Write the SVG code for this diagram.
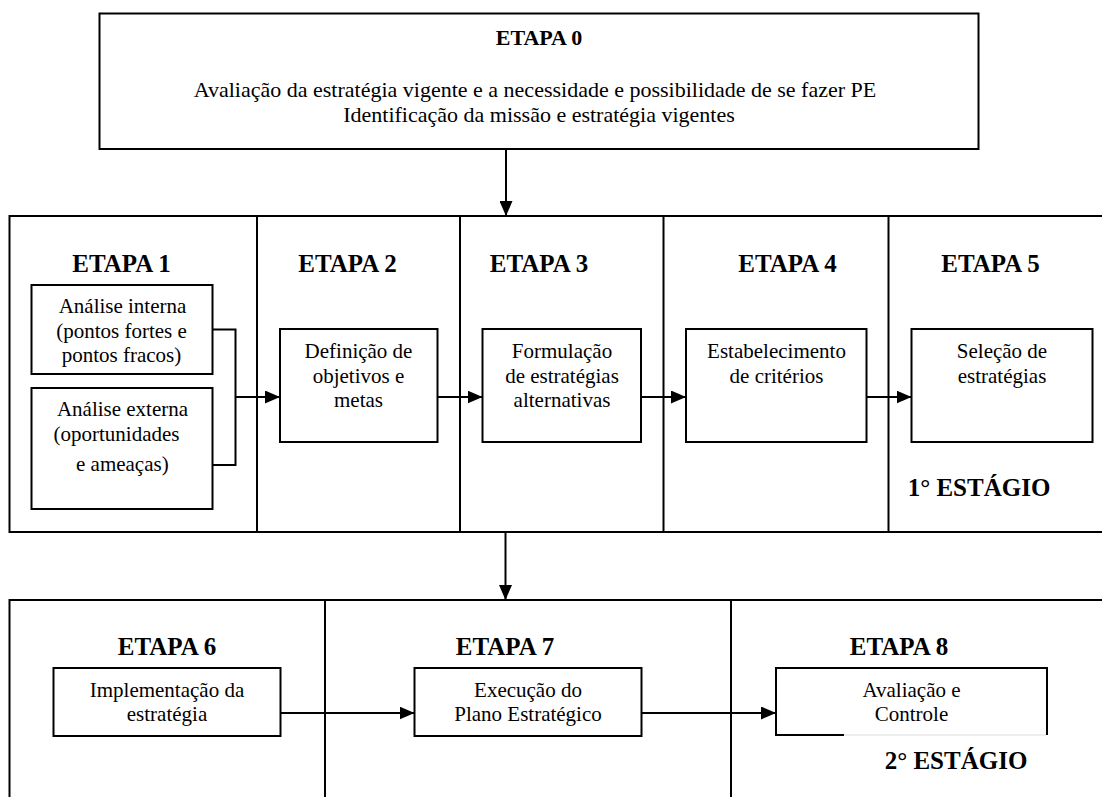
<svg xmlns="http://www.w3.org/2000/svg" width="1102" height="797" viewBox="0 0 1102 797">
  <style>
    .frame { fill: none; stroke: #000; stroke-width: 2; }
    .box { fill: #fff; stroke: #000; stroke-width: 2; }
    .wire { fill: none; stroke: #000; stroke-width: 2; }
    .title { font-weight: bold; font-size: 25px; }
    .body { font-size: 21px; }
    .head { font-size: 22px; }
    .mid { text-anchor: middle; }
  </style>
  <defs>
    <marker id="arrow" viewBox="0 0 15 13" refX="15" refY="6.5" markerWidth="15" markerHeight="13" markerUnits="userSpaceOnUse" orient="auto">
      <path d="M0,0 L15,6.5 L0,13 Z" fill="#000"/>
    </marker>
  </defs>
  <rect width="1102" height="797" fill="#fff"/>

  <!-- Stage frames -->
  <g id="frames">
    <!-- first stage: steps 1 to 5 -->
    <path class="frame" d="M1102,216 H9.5 V532 H1102"/>
    <line class="frame" x1="257" y1="216" x2="257" y2="532"/>
    <line class="frame" x1="460" y1="216" x2="460" y2="532"/>
    <line class="frame" x1="663.5" y1="216" x2="663.5" y2="532"/>
    <line class="frame" x1="888.5" y1="216" x2="888.5" y2="532"/>
    <!-- second stage: steps 6 to 8 -->
    <path class="frame" d="M1102,600 H9.5 V797"/>
    <line class="frame" x1="325" y1="600" x2="325" y2="797"/>
    <line class="frame" x1="731" y1="600" x2="731" y2="797"/>
  </g>

  <g font-family="Liberation Serif, Times New Roman, serif" fill="#000">
  <!-- Step 0 -->
  <g id="etapa0">
    <rect class="box" x="99.5" y="13.5" width="879" height="135.5" stroke-width="2.5"/>
    <text class="title mid" x="539" y="45" style="font-size:22px">ETAPA 0</text>
    <text class="head mid" x="535" y="96.5">Avaliação da estratégia vigente e a necessidade e possibilidade de se fazer PE</text>
    <text class="head mid" x="539" y="121.5">Identificação da missão e estratégia vigentes</text>
  </g>

  <!-- Step 1 -->
  <g id="etapa1">
    <text class="title mid" x="121.5" y="271.5">ETAPA 1</text>
    <g id="analise-interna">
      <rect class="box" x="31.5" y="285" width="181" height="89"/>
      <text class="body mid" x="122.5" y="313">Análise interna</text>
      <text class="body mid" x="121.5" y="338">(pontos fortes e</text>
      <text class="body mid" x="121.5" y="362">pontos fracos)</text>
    </g>
    <g id="analise-externa">
      <rect class="box" x="31.5" y="388" width="181" height="121"/>
      <text class="body mid" x="122.5" y="416">Análise externa</text>
      <text class="body" x="53.5" y="441">(oportunidades</text>
      <text class="body" x="76" y="471">e ameaças)</text>
    </g>
  </g>

  <!-- Step 2 -->
  <g id="etapa2">
    <text class="title mid" x="347.5" y="271.5">ETAPA 2</text>
    <rect class="box" x="280" y="329" width="157.5" height="113"/>
    <text class="body mid" x="358.5" y="358">Definição de</text>
    <text class="body mid" x="358.5" y="383">objetivos e</text>
    <text class="body mid" x="358.5" y="407">metas</text>
  </g>

  <!-- Step 3 -->
  <g id="etapa3">
    <text class="title mid" x="539" y="271.5">ETAPA 3</text>
    <rect class="box" x="482.5" y="329" width="158.5" height="113"/>
    <text class="body mid" x="562" y="358">Formulação</text>
    <text class="body mid" x="562" y="383">de estratégias</text>
    <text class="body mid" x="562" y="407">alternativas</text>
  </g>

  <!-- Step 4 -->
  <g id="etapa4">
    <text class="title mid" x="787.5" y="271.5">ETAPA 4</text>
    <rect class="box" x="686" y="329" width="180.5" height="113"/>
    <text class="body mid" x="776.5" y="358">Estabelecimento</text>
    <text class="body mid" x="776.5" y="383">de critérios</text>
  </g>

  <!-- Step 5 -->
  <g id="etapa5">
    <text class="title mid" x="990.5" y="271.5">ETAPA 5</text>
    <rect class="box" x="911.5" y="329" width="181" height="113"/>
    <text class="body mid" x="1002" y="358">Seleção de</text>
    <text class="body mid" x="1002" y="383">estratégias</text>
    <text class="title mid" x="979" y="496">1° ESTÁGIO</text>
  </g>

  <!-- Step 6 -->
  <g id="etapa6">
    <text class="title mid" x="167" y="655">ETAPA 6</text>
    <rect class="box" x="53.5" y="668" width="227" height="68"/>
    <text class="body mid" x="167" y="696.5">Implementação da</text>
    <text class="body mid" x="167" y="720.5">estratégia</text>
  </g>

  <!-- Step 7 -->
  <g id="etapa7">
    <text class="title mid" x="505" y="655">ETAPA 7</text>
    <rect class="box" x="414.5" y="668" width="227" height="68"/>
    <text class="body mid" x="528" y="696.5">Execução do</text>
    <text class="body mid" x="528" y="720.5">Plano Estratégico</text>
  </g>

  <!-- Step 8 -->
  <g id="etapa8">
    <text class="title mid" x="899" y="655">ETAPA 8</text>
    <path class="wire" d="M844,735 H776 V668 H1047 V735"/>
    <line x1="844" y1="735" x2="1046" y2="735" stroke="#ddd" stroke-width="1"/>
    <text class="body mid" x="911.5" y="696.5">Avaliação e</text>
    <text class="body mid" x="911.5" y="720.5">Controle</text>
    <text class="title mid" x="956" y="768.5">2° ESTÁGIO</text>
  </g>
  </g>

  <!-- Connectors -->
  <g id="connectors">
    <line class="wire" x1="506" y1="149" x2="506" y2="216" marker-end="url(#arrow)"/>
    <path class="wire" d="M212.5,329.5 H235.5 V465 H212.5"/>
    <line class="wire" x1="235.5" y1="397" x2="280" y2="397" marker-end="url(#arrow)"/>
    <line class="wire" x1="437.5" y1="397" x2="482.5" y2="397" marker-end="url(#arrow)"/>
    <line class="wire" x1="641" y1="397" x2="686" y2="397" marker-end="url(#arrow)"/>
    <line class="wire" x1="866.5" y1="397" x2="911.5" y2="397" marker-end="url(#arrow)"/>
    <line class="wire" x1="505.5" y1="532" x2="505.5" y2="600" marker-end="url(#arrow)"/>
    <line class="wire" x1="280.5" y1="713" x2="414.5" y2="713" marker-end="url(#arrow)"/>
    <line class="wire" x1="641.5" y1="713" x2="776" y2="713" marker-end="url(#arrow)"/>
  </g>
</svg>
